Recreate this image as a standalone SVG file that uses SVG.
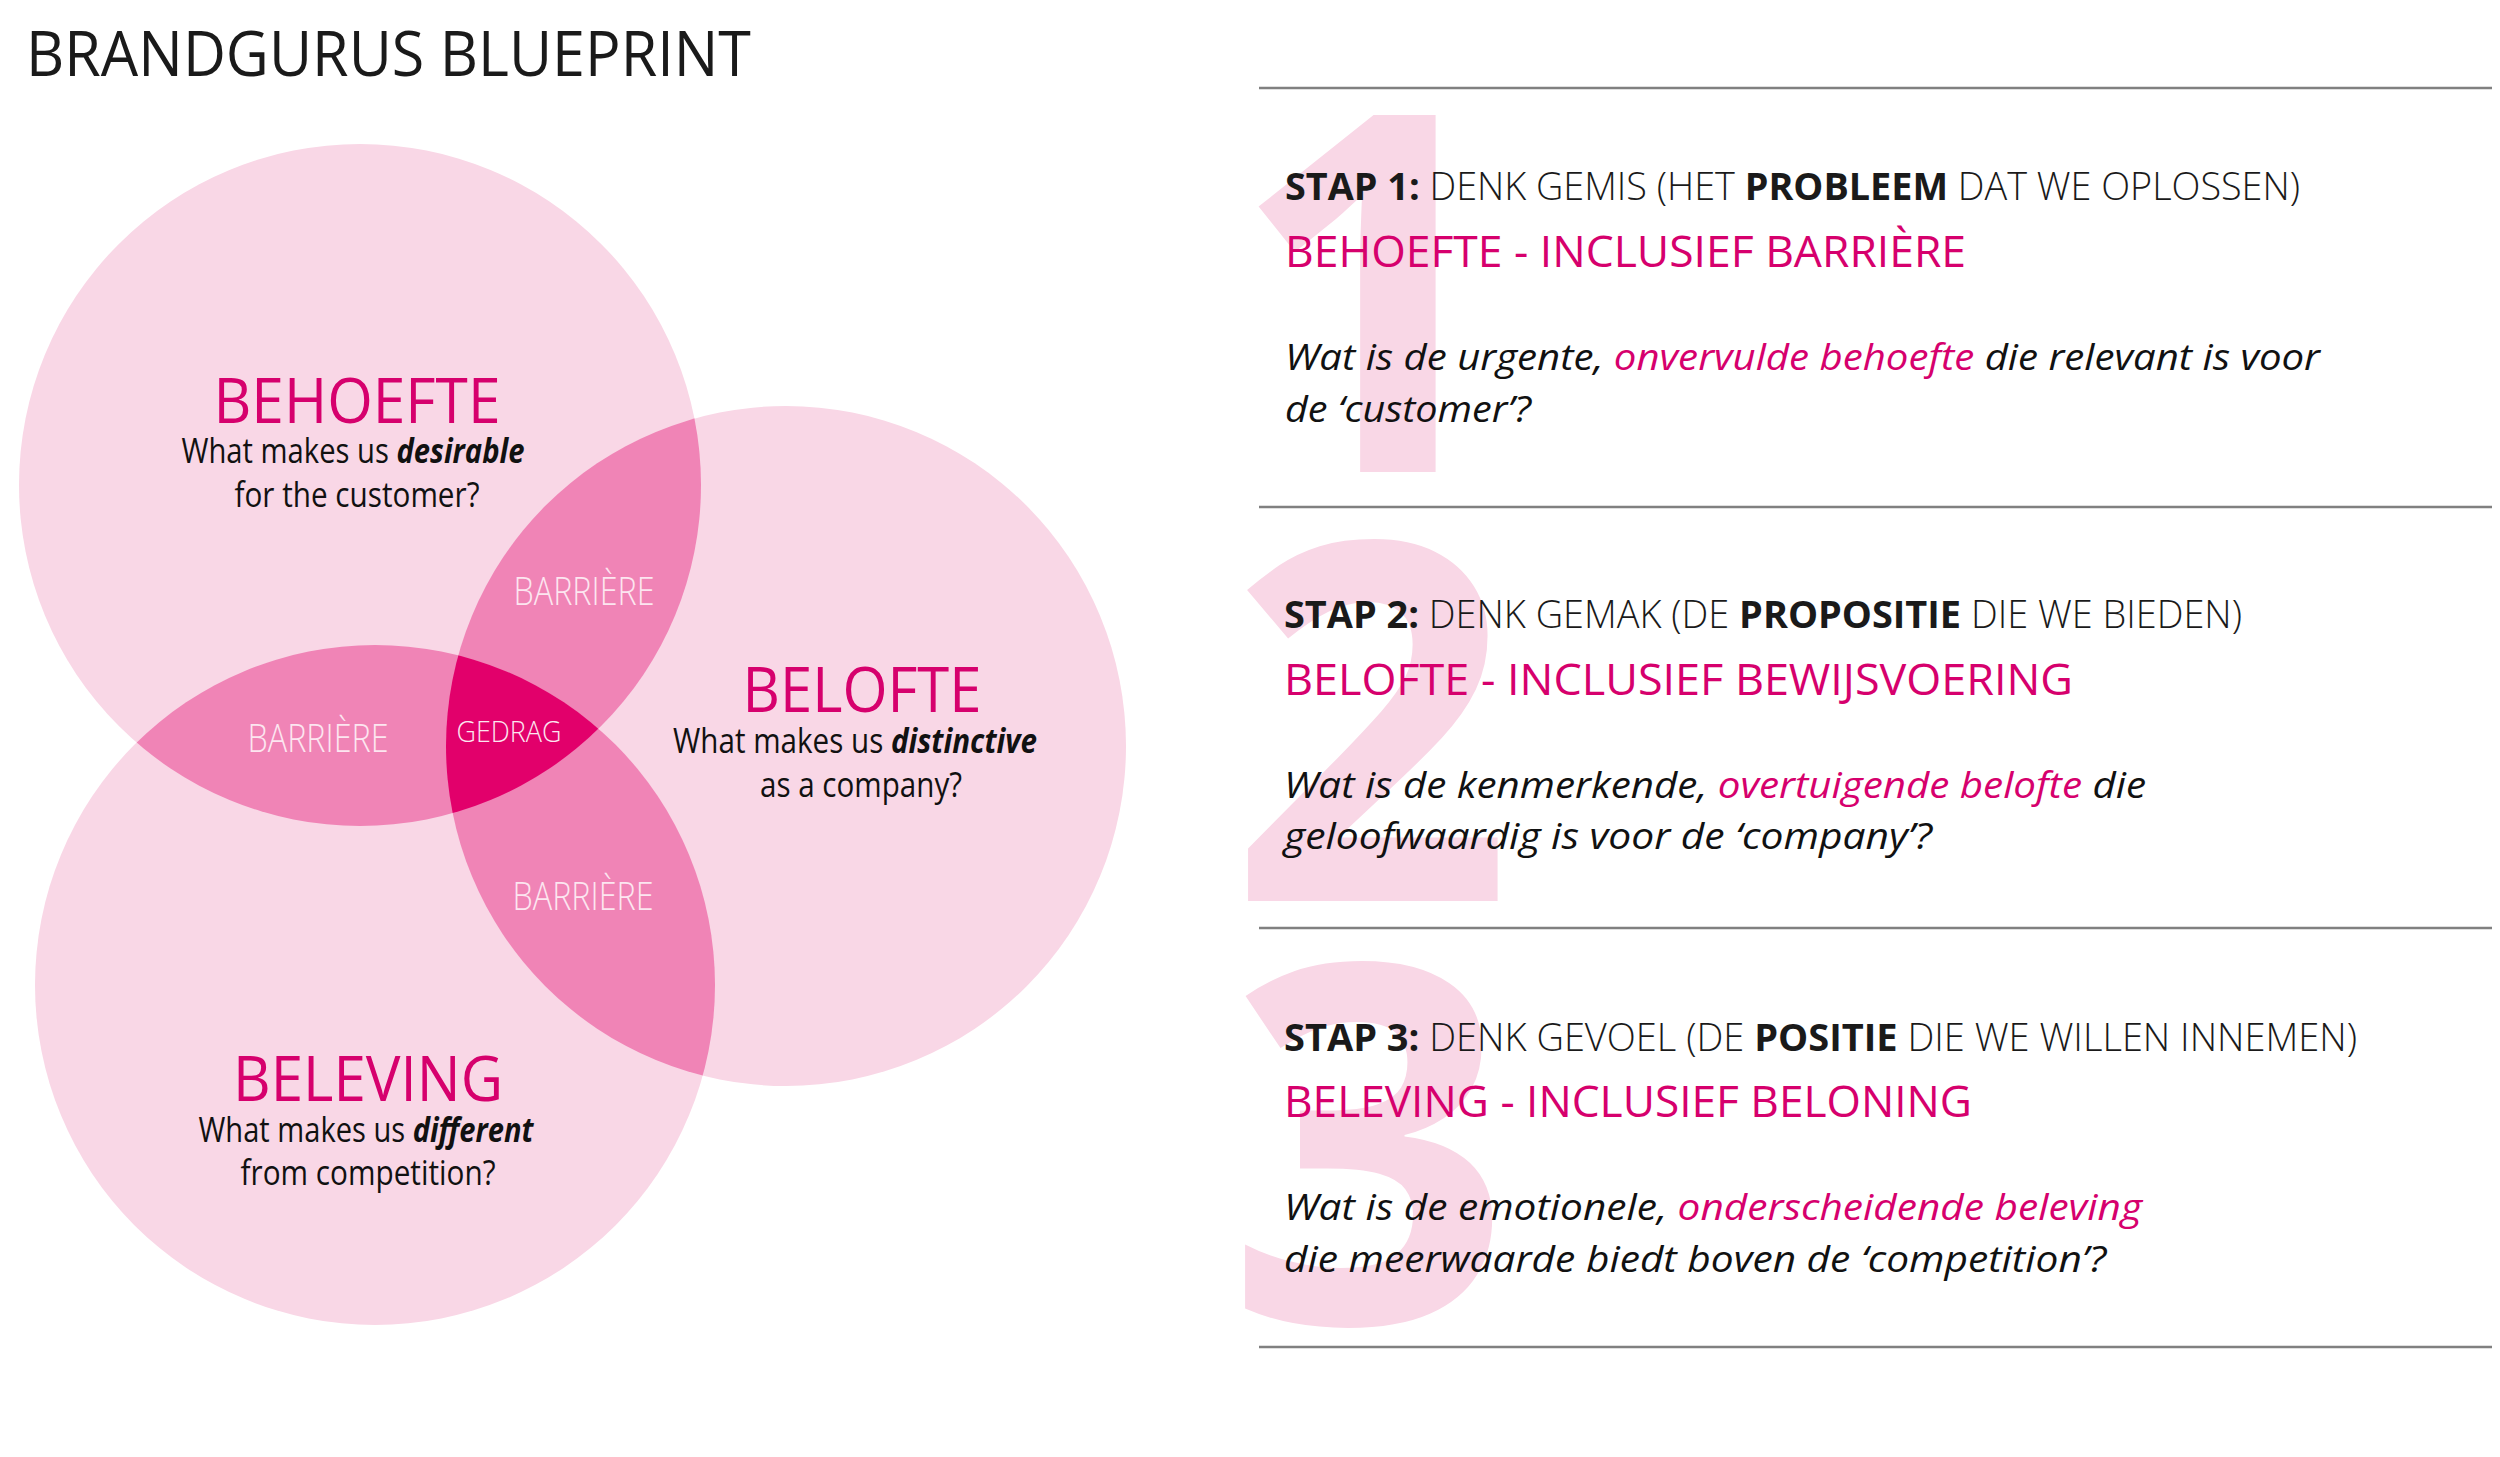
<svg xmlns="http://www.w3.org/2000/svg" width="2500" height="1457" viewBox="0 0 2500 1457">
<defs>
<style>
text{font-family:"Open Sans","Noto Sans","Liberation Sans",sans-serif;}
.title{font-size:62px;fill:#1a1a1a;}
.light{fill:#F9D7E6;}
.mid{fill:#F084B6;}
.deep{fill:#E2006B;}
.head{font-size:63px;fill:#D6006D;}
.sub{font-size:34px;fill:#111;}
.bi{font-weight:700;font-style:italic;}
.bar{font-size:38px;font-weight:300;fill:#FCE6F0;}
.num{font-size:500px;font-weight:700;fill:#F9D7E6;}
.stap{font-size:38px;font-weight:300;fill:#1a1a1a;}
.b{font-weight:700;}
.mh{font-size:43px;fill:#D6006D;}
.q{font-size:36px;font-style:italic;fill:#111;}
.pk{fill:#D6006D;}
.sep{stroke:#808080;stroke-width:2.5;fill:none;}
</style>
<clipPath id="c1"><circle cx="360" cy="485" r="341"/></clipPath>
<clipPath id="c2"><circle cx="786" cy="746" r="340"/></clipPath>
<clipPath id="c3"><circle cx="375" cy="985" r="340"/></clipPath>
</defs>
<rect width="2500" height="1457" fill="#fff"/>
<g id="title"><text class="title" x="26" y="76" textLength="725" lengthAdjust="spacingAndGlyphs">BRANDGURUS BLUEPRINT</text></g>

<g id="venn">
<g id="circle-behoefte"><circle class="light" cx="360" cy="485" r="341"/></g>
<g id="circle-belofte"><circle class="light" cx="786" cy="746" r="340"/></g>
<g id="circle-beleving"><circle class="light" cx="375" cy="985" r="340"/></g>
<g id="overlaps">
<g clip-path="url(#c1)"><circle class="mid" cx="786" cy="746" r="340"/><circle class="mid" cx="375" cy="985" r="340"/></g>
<g clip-path="url(#c2)"><circle class="mid" cx="375" cy="985" r="340"/></g>
<g clip-path="url(#c1)"><g clip-path="url(#c2)"><circle class="deep" cx="375" cy="985" r="340"/></g></g>
</g>
<g id="label-behoefte">
<text class="head" x="357" y="423" text-anchor="middle" textLength="287" lengthAdjust="spacingAndGlyphs">BEHOEFTE</text>
<text class="sub" x="353" y="463" text-anchor="middle" textLength="343" lengthAdjust="spacingAndGlyphs">What makes us <tspan class="bi">desirable</tspan></text>
<text class="sub" x="357" y="507" text-anchor="middle" textLength="245" lengthAdjust="spacingAndGlyphs">for the customer?</text>
</g>
<g id="label-belofte">
<text class="head" x="862" y="712" text-anchor="middle" textLength="239" lengthAdjust="spacingAndGlyphs">BELOFTE</text>
<text class="sub" x="855" y="753" text-anchor="middle" textLength="364" lengthAdjust="spacingAndGlyphs">What makes us <tspan class="bi">distinctive</tspan></text>
<text class="sub" x="861" y="797" text-anchor="middle" textLength="202" lengthAdjust="spacingAndGlyphs">as a company?</text>
</g>
<g id="label-beleving">
<text class="head" x="368" y="1101" text-anchor="middle" textLength="270" lengthAdjust="spacingAndGlyphs">BELEVING</text>
<text class="sub" x="366" y="1142" text-anchor="middle" textLength="335" lengthAdjust="spacingAndGlyphs">What makes us <tspan class="bi">different</tspan></text>
<text class="sub" x="368" y="1185" text-anchor="middle" textLength="255" lengthAdjust="spacingAndGlyphs">from competition?</text>
</g>
<g id="label-barriere-1"><text class="bar" x="584" y="605" text-anchor="middle" textLength="141" lengthAdjust="spacingAndGlyphs">BARRIÈRE</text></g>
<g id="label-barriere-2"><text class="bar" x="318" y="752" text-anchor="middle" textLength="141" lengthAdjust="spacingAndGlyphs">BARRIÈRE</text></g>
<g id="label-barriere-3"><text class="bar" x="583" y="910" text-anchor="middle" textLength="141" lengthAdjust="spacingAndGlyphs">BARRIÈRE</text></g>
<g id="label-gedrag"><text class="bar" style="font-size:29px" x="509" y="742" text-anchor="middle" textLength="105" lengthAdjust="spacingAndGlyphs">GEDRAG</text></g>
</g>

<g id="separators">
<line class="sep" x1="1259" y1="88" x2="2492" y2="88"/>
<line class="sep" x1="1259" y1="507" x2="2492" y2="507"/>
<line class="sep" x1="1259" y1="928" x2="2492" y2="928"/>
<line class="sep" x1="1259" y1="1347" x2="2492" y2="1347"/>
</g>

<g id="step1">
<text class="num" x="1372" y="472" text-anchor="middle">1</text>
<text class="stap" x="1285" y="200" textLength="1015" lengthAdjust="spacingAndGlyphs"><tspan class="b">STAP 1:</tspan> DENK GEMIS (HET <tspan class="b">PROBLEEM</tspan> DAT WE OPLOSSEN)</text>
<text class="mh" x="1285" y="267" textLength="681" lengthAdjust="spacingAndGlyphs">BEHOEFTE - INCLUSIEF BARRIÈRE</text>
<text class="q" x="1285" y="370" textLength="1035" lengthAdjust="spacingAndGlyphs">Wat is de urgente, <tspan class="pk">onvervulde behoefte</tspan> die relevant is voor</text>
<text class="q" x="1285" y="422" textLength="246" lengthAdjust="spacingAndGlyphs">de ‘customer’?</text>
</g>

<g id="step2">
<text class="num" x="1371" y="901" text-anchor="middle">2</text>
<text class="stap" x="1284" y="628" textLength="958" lengthAdjust="spacingAndGlyphs"><tspan class="b">STAP 2:</tspan> DENK GEMAK (DE <tspan class="b">PROPOSITIE</tspan> DIE WE BIEDEN)</text>
<text class="mh" x="1284" y="695" textLength="789" lengthAdjust="spacingAndGlyphs">BELOFTE - INCLUSIEF BEWIJSVOERING</text>
<text class="q" x="1284" y="798" textLength="862" lengthAdjust="spacingAndGlyphs">Wat is de kenmerkende, <tspan class="pk">overtuigende belofte</tspan> die</text>
<text class="q" x="1284" y="849" textLength="648" lengthAdjust="spacingAndGlyphs">geloofwaardig is voor de ‘company’?</text>
</g>

<g id="step3">
<text class="num" x="1369" y="1323" text-anchor="middle">3</text>
<text class="stap" x="1284" y="1051" textLength="1073" lengthAdjust="spacingAndGlyphs"><tspan class="b">STAP 3:</tspan> DENK GEVOEL (DE <tspan class="b">POSITIE</tspan> DIE WE WILLEN INNEMEN)</text>
<text class="mh" x="1284" y="1117" textLength="688" lengthAdjust="spacingAndGlyphs">BELEVING - INCLUSIEF BELONING</text>
<text class="q" x="1284" y="1220" textLength="858" lengthAdjust="spacingAndGlyphs">Wat is de emotionele, <tspan class="pk">onderscheidende beleving</tspan></text>
<text class="q" x="1284" y="1272" textLength="822" lengthAdjust="spacingAndGlyphs">die meerwaarde biedt boven de ‘competition’?</text>
</g>
</svg>
